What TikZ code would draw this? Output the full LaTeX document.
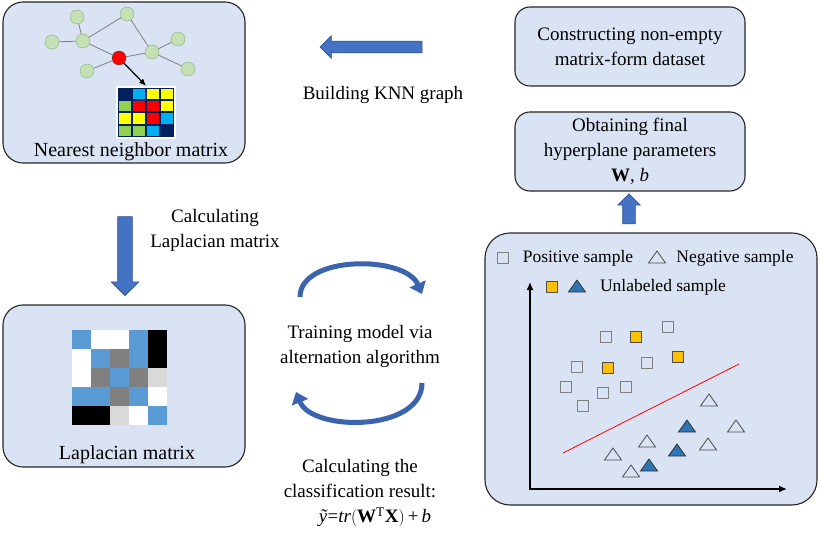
\documentclass[tikz,border=0pt]{standalone}
\usepackage{fontspec}
\setmainfont{Liberation Serif}
\usetikzlibrary{arrows.meta,shapes.arrows}
\definecolor{panelfill}{HTML}{DAE3F3}
\definecolor{arrowblue}{HTML}{4472C4}
\definecolor{arrowedge}{HTML}{2F528F}
\definecolor{loopblue}{HTML}{3A64AE}
\definecolor{gfill}{HTML}{C5E0B4}
\definecolor{gedge}{HTML}{8CB07A}
\definecolor{navy}{HTML}{002060}
\definecolor{mcyan}{HTML}{00B0F0}
\definecolor{myellow}{HTML}{FFFF00}
\definecolor{mgreen}{HTML}{92D050}
\definecolor{mred}{HTML}{FF0000}
\definecolor{lblue}{HTML}{5B9BD5}
\definecolor{lgray}{HTML}{808080}
\definecolor{llight}{HTML}{D9D9D9}
\definecolor{uorange}{HTML}{FFC000}
\definecolor{ublue}{HTML}{2E75B6}
\begin{document}
\begin{tikzpicture}[x=1pt, y=-1pt,
	panel/.style={draw=black!85, line width=1.1pt, fill=panelfill, rounded corners=#1, inner sep=0pt},
	panel/.default=20pt,
	txt/.style={font=\fontsize{19}{25}\selectfont, align=center},
	legend/.style={font=\fontsize{17.5}{21}\selectfont},
	gnode/.style={circle, draw=gedge, fill=gfill, minimum size=14pt, inner sep=0pt},
	blockarrow/.style={single arrow, draw=arrowedge, fill=arrowblue, single arrow tip angle=90, line width=0.6pt},
	looparrow/.style={line width=5pt, draw=loopblue, -{Triangle[width=17pt,length=11pt]}},
	psq/.style={draw=gray, line width=0.8pt},
	usq/.style={draw=black!70, fill=uorange, line width=0.8pt},
	ntri/.style={draw=black!70, line width=0.8pt},
	utri/.style={draw=black!80, fill=ublue, line width=0.8pt}]
	\useasboundingbox (0,0) rectangle (820,535);
	
	%panels
	\node[panel, minimum width=242pt, minimum height=161pt] (nnbox) at (124,82.5){};
	\node[panel, minimum width=242pt, minimum height=162pt] (lapbox) at (124,386){};
	\node[panel=25pt, minimum width=332pt, minimum height=272pt] (plotbox) at (651,369){};
	\node[panel=15pt, txt, minimum width=230pt, minimum height=79pt] (dataset) at (630,46.5){Constructing non-empty\\matrix-form dataset};
	\node[panel=15pt, txt, minimum width=230pt, minimum height=79pt] (params) at (630,151.5){Obtaining final\\hyperplane parameters\\\textbf{W}, \textit{b}};
	
	%knn graph
	\node[gnode] (g1) at (77,17){};
	\node[gnode] (g2) at (127,14){};
	\node[gnode] (g3) at (52,42){};
	\node[gnode] (g4) at (83,41){};
	\node[gnode] (g5) at (152,52){};
	\node[gnode] (g6) at (178,39){};
	\node[gnode] (g7) at (188,69){};
	\node[gnode] (g8) at (87,71){};
	\node[gnode, draw=black!70, fill=mred] (hub) at (119,58){};
	\foreach \a/\b in {g1/g4, g3/g4, g4/g2, g4/hub, g2/g5, hub/g5, g5/g6, g5/g7, hub/g8}{
		\draw[gray, line width=0.8pt] (\a) -- (\b);
	}
	
	%nearest neighbor matrix
	\node[fill=white, minimum width=60pt, minimum height=53pt, inner sep=0pt] (nnmat) at (146,112.5){};
	\fill[navy] (118,88) rectangle (174,137);
	\foreach \row [count=\i from 0] in {{navy,mcyan,myellow,myellow},{mgreen,mred,mred,myellow},{myellow,myellow,mred,mcyan},{mgreen,mgreen,mcyan,navy}}{
		\foreach \c [count=\j from 0] in \row{
			\fill[\c] (119+14*\j, 89+12.25*\i) rectangle ++(12,10.25);
		}
	}
	\draw[-{Latex[length=7pt,width=6pt]}, line width=1.2pt] (hub) -- (nnmat.north);
	\node[txt, font=\fontsize{20}{24}\selectfont] (nnlabel) at (131,152){Nearest neighbor matrix};
	
	%laplacian matrix
	\foreach \row [count=\i from 0] in {{lblue,white,white,lblue,black},{white,lblue,lgray,lblue,black},{white,lgray,lblue,lgray,llight},{lblue,lblue,lgray,lblue,white},{black,black,llight,white,lblue}}{
		\foreach \c [count=\j from 0] in \row{
			\fill[\c] (72+19*\j, 330+19*\i) rectangle ++(19,19);
		}
	}
	\node[txt, font=\fontsize{20}{24}\selectfont] (laplabel) at (127,455){Laplacian matrix};
	
	%block arrows
	\node[blockarrow, inner sep=5.5pt, minimum height=102pt, single arrow head extend=5.5pt, shape border rotate=180] (knn) at (374,47){};
	\node[txt] (knnlabel) at (383,95){Building KNN graph};
	\node[blockarrow, inner sep=7pt, minimum height=79pt, single arrow head extend=6.5pt, shape border rotate=270] (lap) at (125,252.5){};
	\node[txt] (lapstep) at (215,230.5){Calculating\\Laplacian matrix};
	\node[blockarrow, inner sep=6pt, minimum height=30pt, single arrow head extend=5pt, shape border rotate=90] (up) at (629,212){};
	
	%alternation loop
	\coordinate (topfrom) at (300,297);
	\coordinate (topto) at (422,294);
	\coordinate (botfrom) at (422,383);
	\coordinate (botto) at (296,392);
	\draw[looparrow] (topfrom) .. controls (300,255) and (405,255) .. (topto);
	\draw[looparrow] (botfrom) .. controls (422,432) and (312,432) .. (botto);
	\node[txt] (train) at (360,346.5){Training model via\\alternation algorithm};
	\node[txt] (result) at (360,493){Calculating the\\classification result:\\\hspace*{30pt}\textit{\~{y}}=\textit{tr}$\Bigl($\textbf{W}\textsuperscript{T}\textbf{X}$\Bigr)$\,+\,\textit{b}};
	
	%samples
	\coordinate (o) at (530,489);
	\coordinate (ytop) at (530,282);
	\coordinate (xend) at (787,489);
	\draw[line width=1.4pt, {Latex[length=8pt,width=7pt]}-{Latex[length=8pt,width=7pt]}] (ytop) -- (o) -- (xend);
	\coordinate (h1) at (563,453);
	\coordinate (h2) at (739,364);
	\draw[mred, line width=0.8pt] (h1) -- (h2);
	\foreach \x/\y in {668/327, 606/337, 647/363, 577/367, 566/387, 603/393, 626/387, 583/406, 503/258}{
		\draw[psq] (\x-5.5,\y-5.5) rectangle ++(11,11);
	}
	\foreach \x/\y in {636/337, 678/357, 608/368, 552/287}{
		\draw[usq] (\x-5.5,\y-5.5) rectangle ++(11,11);
	}
	\foreach \x/\y in {709/401, 736/427, 708/445, 647/442, 613/455, 631/472, 657/258}{
		\draw[ntri] (\x-8.5,\y+5) -- (\x+8.5,\y+5) -- (\x,\y-7) -- cycle;
	}
	\foreach \x/\y in {687/427, 677/451, 649/466, 577/287}{
		\draw[utri] (\x-8.5,\y+5) -- (\x+8.5,\y+5) -- (\x,\y-7) -- cycle;
	}
	\node[legend] (pos) at (578,258){Positive sample};
	\node[legend] (neg) at (735,258){Negative sample};
	\node[legend] (unl) at (663,287){Unlabeled sample};
\end{tikzpicture}
\end{document}
